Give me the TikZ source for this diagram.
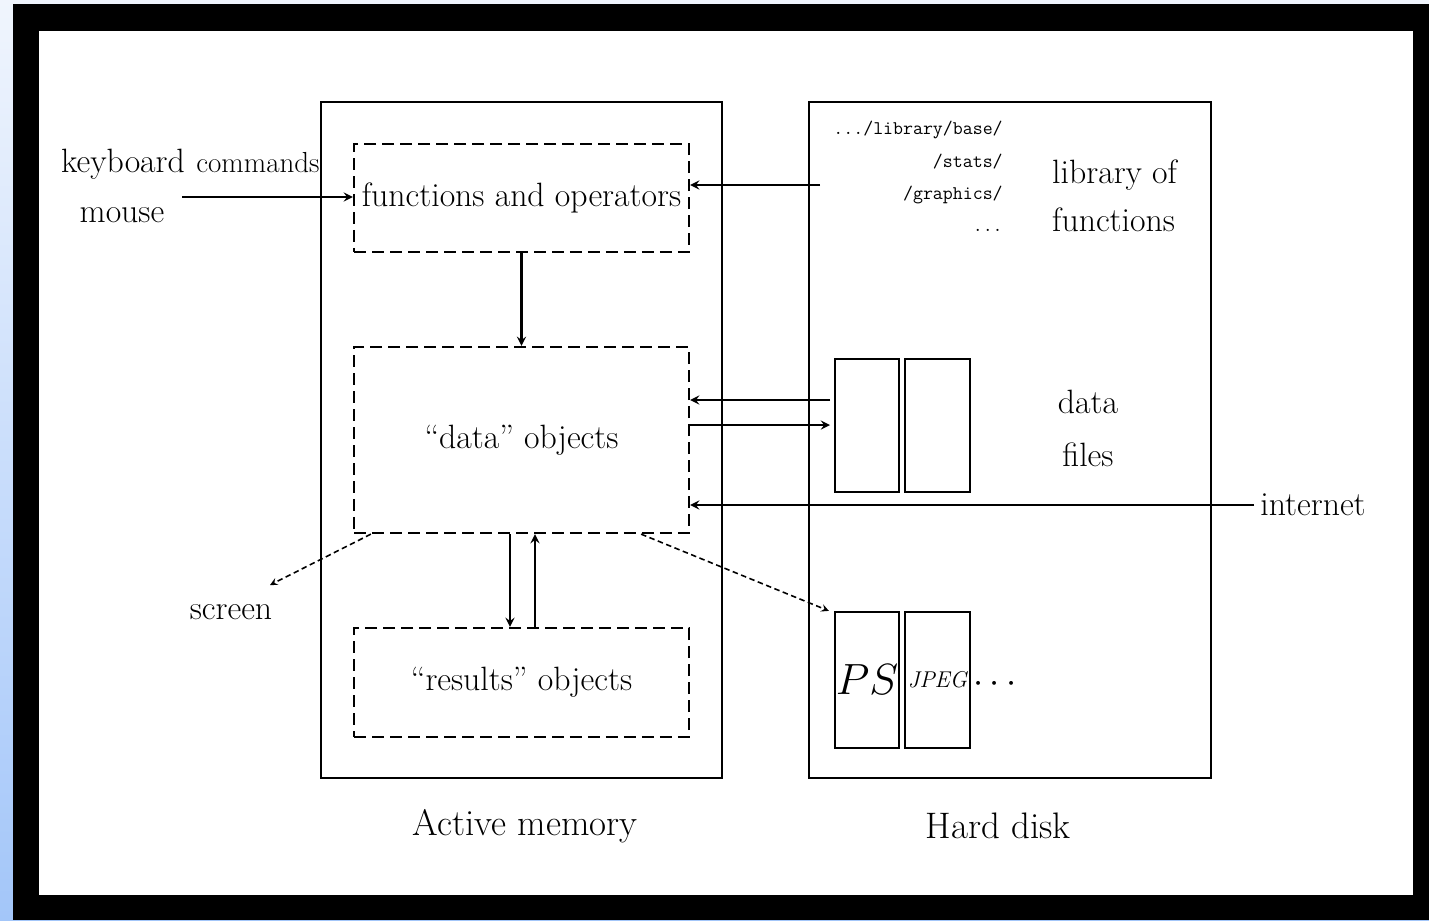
\documentclass[tikz,border=0pt]{standalone}
\usepackage{amsmath}
\usepackage{amssymb}
\usepackage{tikz}
\usetikzlibrary{trees,arrows}
\definecolor{edgetop}{HTML}{F0F5FD}
\definecolor{edgebot}{HTML}{A3C6F9}
\begin{document}
\begin{tikzpicture}[>=stealth, x=0.02cm, y=-0.02cm, font=\fontsize{19.2}{23}\selectfont]
			\tikzstyle{membox} = [draw, line width=1.3pt, minimum height=13.52cm, inner sep=0pt]
			\tikzstyle{dbox} = [draw, line width=1.3pt, dash pattern=on 0.24cm off 0.12cm, minimum width=6.7cm, inner sep=0pt]
			\tikzstyle{filebox} = [draw, line width=1.3pt, inner sep=0pt]
			\tikzstyle{flow} = [->, line width=1.3pt]
			\tikzstyle{toout} = [->, line width=0.9pt, dash pattern=on 0.11cm off 0.07cm]
			\tikzstyle{dirtext} = [anchor=east, inner sep=0pt, font=\fontsize{11}{13}\selectfont\ttfamily]
			% frame round the picture
			\shade[top color=edgetop, bottom color=edgebot] (0,0) rectangle (1429,920);
			\fill[black] (13,4) rectangle (1429,920);
			\fill[white] (39,31) rectangle (1413,895);
			\begin{scope}
			\path
			node[membox, minimum width=8.02cm] (am) at (521.5,440) {}
			node[membox, minimum width=8.04cm] (hd) at (1010,440) {}
			node[dbox, minimum height=2.16cm] (fun) at (521.5,198) {functions and operators}
			node[dbox, minimum height=3.72cm] (data) at (521.5,440) {``data'' objects}
			node[dbox, minimum height=2.18cm] (res) at (521.5,682.5) {``results'' objects}
			node[filebox, minimum width=1.28cm, minimum height=2.66cm] (df1) at (867,425.5) {}
			node[filebox, minimum width=1.3cm, minimum height=2.66cm] (df2) at (937.5,425.5) {}
			node[filebox, minimum width=1.28cm, minimum height=2.72cm, font=\fontsize{24}{28}\selectfont] (ps1) at (867,680) {$PS$}
			node[filebox, minimum width=1.3cm, minimum height=2.72cm, font=\fontsize{13}{15}\selectfont\itshape] (ps2) at (937.5,680) {JPEG}
			node[] (psdots) at (998,684) {$\cdots$}
			node[anchor=base] (kbd) at (123,172) {keyboard}
			node[anchor=base, font=\fontsize{16.5}{19}\selectfont] (cmd) at (258,172) {commands}
			node[] (mouse) at (122,215) {mouse}
			node[] (screen) at (231,612) {screen}
			node[dirtext] (lib1) at (1003,130) {.../library/base/}
			node[dirtext] (lib2) at (1003,162) {/stats/}
			node[dirtext] (lib3) at (1003,195) {/graphics/}
			node[dirtext] (lib4) at (1003,230) {...}
			node[anchor=west] (libA) at (1046,175) {library of}
			node[anchor=west] (libB) at (1046,220) {functions}
			node[] (dat1) at (1088,402) {data}
			node[] (dat2) at (1088,455) {files}
			node[] (inet) at (1313,505) {internet}
			node[font=\fontsize{21}{25}\selectfont] (amlab) at (525,826) {Active memory}
			node[font=\fontsize{21}{25}\selectfont] (hdlab) at (998,826) {Hard disk}
			;
			\coordinate (kin) at (182,197);
			\coordinate (libin) at (820,185);
			\coordinate (dfout) at (830,400);
			\coordinate (dfin) at (830,425);
			\coordinate (scr) at (270,585);
			\path[flow]
			(kin) edge (kin -| fun.west)
			(libin) edge (libin -| fun.east)
			(fun.south) edge (data.north)
			(dfout) edge (dfout -| data.east)
			(dfin -| data.east) edge (dfin)
			(inet.west) edge (inet.west -| data.east)
			([xshift=-0.23cm]data.south) edge ([xshift=-0.23cm]res.north)
			([xshift=0.27cm]res.north) edge ([xshift=0.27cm]data.south)
			;
			\path[toout]
			([xshift=0.36cm]data.south west) edge (scr)
			([xshift=-0.98cm]data.south east) edge ([xshift=-0.1cm]ps1.north west)
			;
			\end{scope}
			\end{tikzpicture}
\end{document}
